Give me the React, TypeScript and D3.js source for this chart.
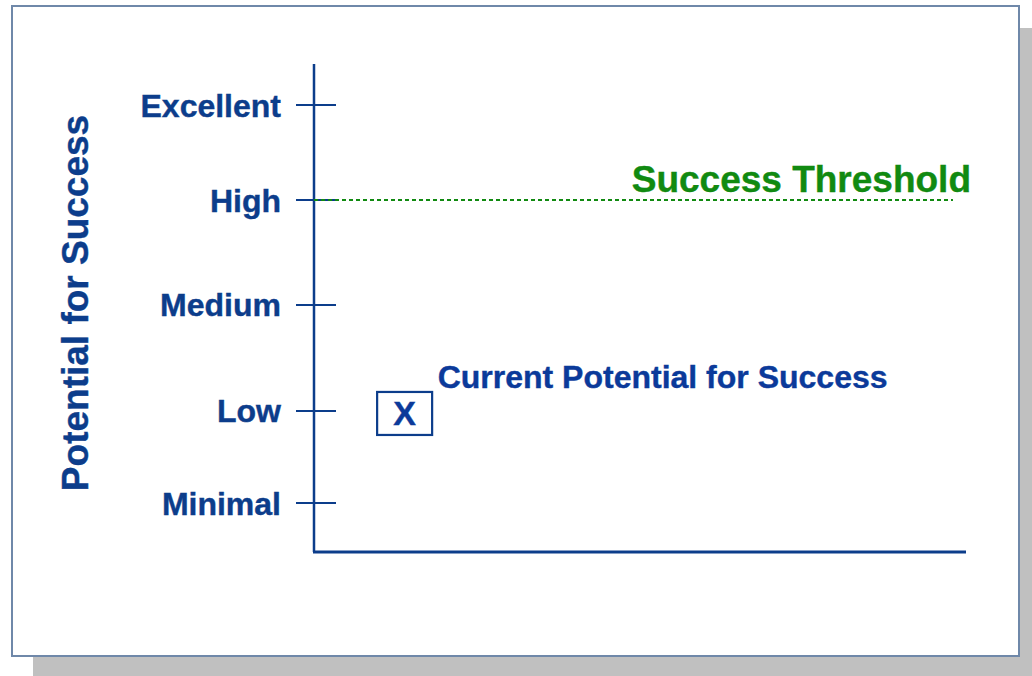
import React from "react";
import * as d3 from "d3";

const levels = ["Minimal", "Low", "Medium", "High", "Excellent"];
const levelScores = [0, 0.925, 1.99, 3.045, 4];
const yTitle = "Potential for Success";
const thresholdLevel = "High";
const thresholdLabel = "Success Threshold";
const thresholdExtent = [0, 0.98];
const currentLevel = "Low";
const currentX = 0.139;
const currentLabel = "Current Potential for Success";
const currentMark = "X";

const W = 1032;
const H = 676;
const NAVY = "#0c3d8b";
const GREEN = "#118a11";
const FONT = "'Liberation Sans', Arial, sans-serif";

export default function App() {
  const ys = d3.scaleLinear().domain([0, 4]).range([503, 105]);
  const y = (l: string) => ys(levelScores[levels.indexOf(l)]);
  const x = d3.scaleLinear().domain([0, 1]).range([314, 966]);
  const x0 = x(0);
  const yBottom = 552;
  const yTop = 64;
  const ty = y(thresholdLevel);
  const cy = y(currentLevel);
  const cx = x(currentX);
  return (
    <svg
      width={W}
      height={H}
      style={{ position: "absolute", left: 0, top: 0, background: "#fff" }}
      fontFamily={FONT}
    >
      {/* shadow */}
      <rect x={33} y={28} width={W - 33} height={H - 28} fill="#c0c0c0" />
      {/* frame */}
      <rect x={12} y={6} width={1007} height={650} fill="#fff" stroke="#6f88a9" strokeWidth={2} />
      {/* axes */}
      <line x1={x0} x2={x0} y1={yTop} y2={yBottom} stroke={NAVY} strokeWidth={2.5} />
      <line x1={x0 - 1} x2={x(1)} y1={yBottom} y2={yBottom} stroke={NAVY} strokeWidth={3} />
      {levels.map((l) => (
        <g key={l}>
          <line x1={x0 - 18} x2={x0 + 22} y1={y(l)} y2={y(l)} stroke={NAVY} strokeWidth={2} />
          <text
            x={281}
            y={y(l) + 11.5}
            textAnchor="end"
            fontSize={32}
            fontWeight="bold"
            fill={NAVY}
            stroke={NAVY}
            strokeWidth={0.4}
          >
            {l}
          </text>
        </g>
      ))}
      <text
        transform={`translate(88,303) rotate(-90)`}
        textAnchor="middle"
        fontSize={37}
        fontWeight="bold"
        fill={NAVY}
        stroke={NAVY}
        strokeWidth={0.4}
      >
        {yTitle}
      </text>
      {/* threshold */}
      <line
        x1={x(thresholdExtent[0])}
        x2={x(thresholdExtent[1])}
        y1={ty}
        y2={ty}
        stroke={GREEN}
        strokeWidth={2.2}
        strokeDasharray="4,3"
      />
      <text
        x={971}
        y={ty - 8}
        textAnchor="end"
        fontSize={37}
        fontWeight="bold"
        fill={GREEN}
        stroke={GREEN}
        strokeWidth={0.4}
      >
        {thresholdLabel}
      </text>
      {/* current */}
      <rect x={cx - 27.5} y={cy - 19} width={55} height={43} fill="#fff" stroke={NAVY} strokeWidth={2.2} />
      <text
        x={cx}
        y={cy + 14}
        textAnchor="middle"
        fontSize={34}
        fontWeight="bold"
        fill="#0b3a9a"
        stroke="#0b3a9a"
        strokeWidth={0.4}
      >
        {currentMark}
      </text>
      <text
        x={cx + 33}
        y={cy - 23}
        fontSize={32}
        fontWeight="bold"
        fill="#0b3a9a"
        stroke="#0b3a9a"
        strokeWidth={0.4}
      >
        {currentLabel}
      </text>
    </svg>
  );
}
